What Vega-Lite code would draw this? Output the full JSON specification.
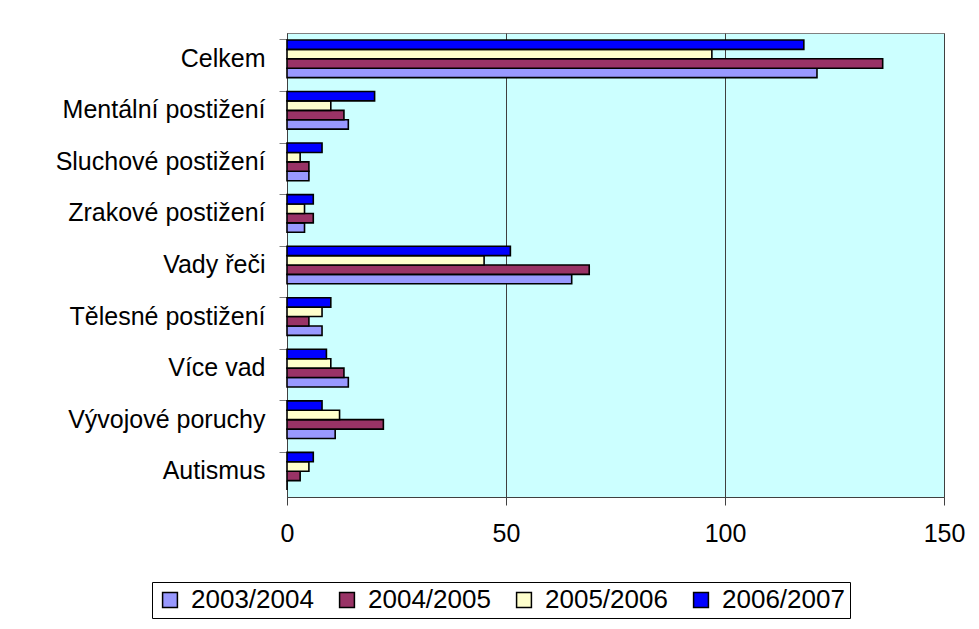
{
  "$schema": "https://vega.github.io/schema/vega-lite/v6.json",
  "width": 657,
  "height": 464,
  "autosize": {"type": "none"},
  "padding": {"left": 287, "top": 33, "right": 35, "bottom": 132},
  "background": "white",
  "config": {
    "font": "Liberation Sans",
    "view": {"fill": "#CCFFFF", "stroke": "#808080", "strokeWidth": 1}
  },
  "data": {
    "values": [
      {"cat": "Celkem", "year": "2003/2004", "v": 121},
      {"cat": "Celkem", "year": "2004/2005", "v": 136},
      {"cat": "Celkem", "year": "2005/2006", "v": 97},
      {"cat": "Celkem", "year": "2006/2007", "v": 118},
      {"cat": "Mentální postižení", "year": "2003/2004", "v": 14},
      {"cat": "Mentální postižení", "year": "2004/2005", "v": 13},
      {"cat": "Mentální postižení", "year": "2005/2006", "v": 10},
      {"cat": "Mentální postižení", "year": "2006/2007", "v": 20},
      {"cat": "Sluchové postižení", "year": "2003/2004", "v": 5},
      {"cat": "Sluchové postižení", "year": "2004/2005", "v": 5},
      {"cat": "Sluchové postižení", "year": "2005/2006", "v": 3},
      {"cat": "Sluchové postižení", "year": "2006/2007", "v": 8},
      {"cat": "Zrakové postižení", "year": "2003/2004", "v": 4},
      {"cat": "Zrakové postižení", "year": "2004/2005", "v": 6},
      {"cat": "Zrakové postižení", "year": "2005/2006", "v": 4},
      {"cat": "Zrakové postižení", "year": "2006/2007", "v": 6},
      {"cat": "Vady řeči", "year": "2003/2004", "v": 65},
      {"cat": "Vady řeči", "year": "2004/2005", "v": 69},
      {"cat": "Vady řeči", "year": "2005/2006", "v": 45},
      {"cat": "Vady řeči", "year": "2006/2007", "v": 51},
      {"cat": "Tělesné postižení", "year": "2003/2004", "v": 8},
      {"cat": "Tělesné postižení", "year": "2004/2005", "v": 5},
      {"cat": "Tělesné postižení", "year": "2005/2006", "v": 8},
      {"cat": "Tělesné postižení", "year": "2006/2007", "v": 10},
      {"cat": "Více vad", "year": "2003/2004", "v": 14},
      {"cat": "Více vad", "year": "2004/2005", "v": 13},
      {"cat": "Více vad", "year": "2005/2006", "v": 10},
      {"cat": "Více vad", "year": "2006/2007", "v": 9},
      {"cat": "Vývojové poruchy", "year": "2003/2004", "v": 11},
      {"cat": "Vývojové poruchy", "year": "2004/2005", "v": 22},
      {"cat": "Vývojové poruchy", "year": "2005/2006", "v": 12},
      {"cat": "Vývojové poruchy", "year": "2006/2007", "v": 8},
      {"cat": "Autismus", "year": "2003/2004", "v": 0},
      {"cat": "Autismus", "year": "2004/2005", "v": 3},
      {"cat": "Autismus", "year": "2005/2006", "v": 5},
      {"cat": "Autismus", "year": "2006/2007", "v": 6}
    ]
  },
  "mark": {"type": "bar", "stroke": "black", "strokeWidth": 1.6},
  "encoding": {
    "y": {
      "field": "cat",
      "type": "nominal",
      "sort": null,
      "scale": {"paddingInner": 0.27, "paddingOuter": 0.135},
      "axis": {
        "title": null,
        "bandPosition": 0,
        "labelFontSize": 25,
        "labelColor": "black",
        "labelPadding": 14,
        "tickColor": "#808080",
        "tickSize": 8,
        "domainColor": "#404040",
        "labelBound": false,
        "labelLimit": 300,
        "grid": false
      }
    },
    "yOffset": {
      "field": "year",
      "type": "nominal",
      "sort": ["2006/2007", "2005/2006", "2004/2005", "2003/2004"],
      "scale": {"paddingInner": 0, "paddingOuter": 0}
    },
    "x": {
      "field": "v",
      "type": "quantitative",
      "scale": {"domain": [0, 150], "nice": false},
      "axis": {
        "title": null,
        "values": [0, 50, 100, 150],
        "labelFontSize": 25,
        "labelColor": "black",
        "labelPadding": 16,
        "tickSize": 8,
        "tickColor": "#404040",
        "domainColor": "#404040",
        "grid": true,
        "gridColor": "#404040",
        "gridWidth": 1,
        "labelFlush": false
      }
    },
    "color": {
      "field": "year",
      "type": "nominal",
      "scale": {
        "domain": ["2003/2004", "2004/2005", "2005/2006", "2006/2007"],
        "range": ["#9999FF", "#993366", "#FFFFCC", "#0000FF"]
      },
      "legend": {
        "title": null,
        "orient": "none",
        "direction": "horizontal",
        "columns": 4,
        "legendX": -135,
        "legendY": 549,
        "symbolType": "square",
        "symbolSize": 220,
        "symbolStrokeColor": "black",
        "symbolStrokeWidth": 1.5,
        "labelFontSize": 26,
        "labelColor": "black",
        "labelOffset": 8,
        "columnPadding": 20,
        "strokeColor": "black",
        "padding": 5,
        "fillColor": "white"
      }
    }
  }
}
